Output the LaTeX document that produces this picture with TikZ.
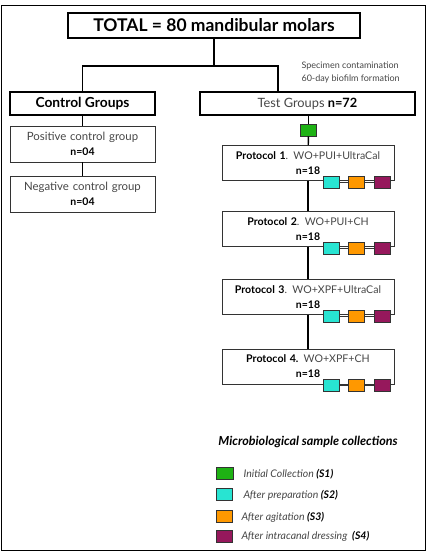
\documentclass[tikz,border=0pt]{standalone}
\usepackage{fontspec}
\setmainfont{Lato}
\usetikzlibrary{positioning}
\definecolor{sgreen}{RGB}{30,178,20}
\definecolor{scyan}{RGB}{40,228,210}
\definecolor{sorange}{RGB}{255,152,0}
\definecolor{spurple}{RGB}{150,24,92}
\definecolor{txtgray}{RGB}{70,70,70}
\newcommand{\nval}[1]{{\color{black}\fontsize{10.5}{15}\selectfont\bfseries #1}}
\tikzset{
  headbox/.style={draw, line width=2.4pt, inner sep=0pt, minimum height=23},
  groupbox/.style={draw=black!80, line width=0.9pt, align=center, inner sep=0pt,
    text width=143, minimum width=145, minimum height=36, text=txtgray,
    font=\fontsize{11.4}{15}\selectfont},
  protbox/.style={draw=black!80, line width=0.9pt, align=center, inner sep=0pt,
    text width=170, minimum width=172, minimum height=35, text=txtgray,
    font=\fontsize{10.6}{15}\selectfont},
  sample/.style={draw=black!80, line width=0.7pt, minimum width=16, minimum height=12, inner sep=0pt},
  link/.style={line width=1.4pt},
  legtext/.style={anchor=west, text=txtgray, font=\fontsize{10.5}{12}\selectfont\itshape},
}
\begin{document}
\begin{tikzpicture}[x=1pt, y=-1pt]
  \useasboundingbox (0,0) rectangle (427,552);
  % outer frame
  \draw[line width=1pt] (1,5) rectangle (425,550);

  % top level
  \node[headbox, minimum width=292, minimum height=25,
    font=\fontsize{17.5}{20}\selectfont\bfseries] (total) at (214,25.5) {TOTAL = 80 mandibular molars};
  \node[headbox, minimum width=145, font=\fontsize{13.8}{16}\selectfont\bfseries] (ctrl) at (82.5,103.5) {Control Groups};
  \node[headbox, minimum width=215, text=txtgray, font=\fontsize{12.8}{16}\selectfont] (test) at (307.5,103.5)
    {Test Groups {\color{black}\bfseries n=72}};
  \node[align=left, anchor=west, text=txtgray, font=\fontsize{9}{13}\selectfont] (biofilm) at (298,72.5)
    {Specimen contamination\\60-day biofilm formation};

  \coordinate (jl) at (82.5,66);
  \coordinate (jr) at (278,66);
  \draw[link] (total.south) -- (total.south |- jl);
  \draw[link] (ctrl.north) -- (jl) -- (jr) -- (test.north -| jr);

  % control groups
  \node[groupbox] (pos) at (82.5,144) {Positive control group\\\nval{n=04}};
  \node[groupbox] (neg) at (82.5,194) {Negative control group\\\nval{n=04}};
  \draw[link] (ctrl) -- (pos);
  \draw[link] (pos) -- (neg);

  % test groups
  \node[sample, fill=sgreen] (init) at (308.5,130) {};
  \node[protbox] (p1) at (308,163) {{\color{black}\bfseries Protocol 1}. WO+PUI+UltraCal\\\nval{n=18}};
  \node[protbox] (p2) at (308,229) {{\color{black}\bfseries Protocol 2}. WO+PUI+CH\\\nval{n=18}};
  \node[protbox] (p3) at (308,297) {{\color{black}\bfseries Protocol 3}. WO+XPF+UltraCal\\\nval{n=18}};
  \node[protbox] (p4) at (308,366.5) {{\color{black}\bfseries Protocol 4.} WO+XPF+CH\\\nval{n=18}};
  \foreach \i in {1,...,4}{
    \node[sample, fill=scyan] (c\i) at ([xshift=23pt, yshift=-1pt]p\i.south) {};
    \node[sample, fill=sorange] (o\i) at ([xshift=48.5pt, yshift=-1pt]p\i.south) {};
    \node[sample, fill=spurple] (m\i) at ([xshift=74.5pt, yshift=-1pt]p\i.south) {};
    \draw[line width=0.9pt, black!80] (c\i) -- (o\i) -- (m\i);
  }
  \draw[link] (test.south -| init) -- (init);
  \draw[link] (init) -- (p1);
  \draw[link] (p1) -- (p2);
  \draw[link] (p2) -- (p3);
  \draw[link] (p3) -- (p4);

  % legend
  \node[font=\fontsize{12.5}{14}\selectfont\bfseries\itshape] (legtitle) at (308,442) {Microbiological sample collections};
  \node[sample, fill=sgreen, minimum width=17] (lg) at (224.5,473) {};
  \node[sample, fill=scyan] (lc) at (224,494.5) {};
  \node[sample, fill=sorange] (lo) at (224,516) {};
  \node[sample, fill=spurple] (lm) at (224,536) {};
  \node[legtext] (lgt) at (240,474.5) {Initial Collection {\color{black}\bfseries(S1)}};
  \node[legtext] (lct) at (240,495.5) {After preparation {\color{black}\bfseries(S2)}};
  \node[legtext] (lot) at (238,517) {After agitation {\color{black}\bfseries(S3)}};
  \node[legtext] (lmt) at (238,536.5) {After intracanal dressing\ \ {\color{black}\bfseries(S4)}};
\end{tikzpicture}
\end{document}
